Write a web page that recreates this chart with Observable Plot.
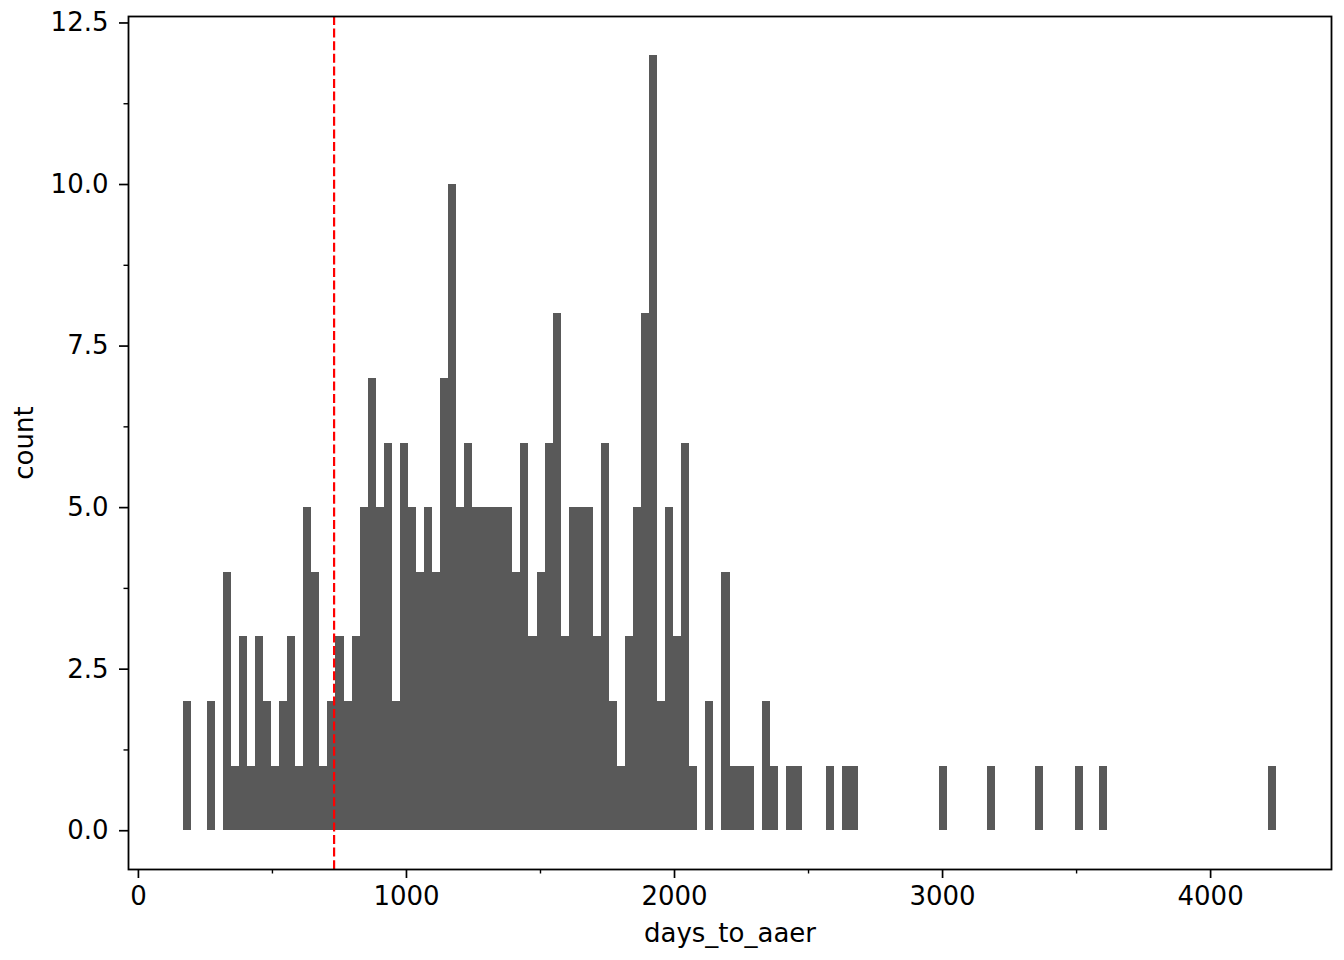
<!DOCTYPE html>
<html>
<head>
<meta charset="utf-8">
<script src="https://cdn.jsdelivr.net/npm/d3@7"></script>
<script src="https://cdn.jsdelivr.net/npm/@observablehq/plot@0.6"></script>
<style>
  html, body { margin: 0; padding: 0; background: #ffffff; }
  #chart svg { display: block; }
</style>
</head>
<body>
<div id="chart"></div>
<script>
// Histogram of days_to_aaer: 136 bins of 30 days starting at 167 days
const binStart = 167;
const binWidth = 30;
const counts = [
  2,0,0,2,0,4,1,3,1,3,
  2,1,2,3,1,5,4,1,2,3,
  2,3,5,7,5,6,2,6,5,4,
  5,4,7,10,5,6,5,5,5,5,
  5,4,6,3,4,6,8,3,5,5,
  5,3,6,2,1,3,5,8,12,2,
  5,3,6,1,0,2,0,4,1,1,
  1,0,2,1,0,1,1,0,0,0,
  1,0,1,1,0,0,0,0,0,0,
  0,0,0,0,1,0,0,0,0,0,
  1,0,0,0,0,0,1,0,0,0,
  0,1,0,0,1,0,0,0,0,0,
  0,0,0,0,0,0,0,0,0,0,
  0,0,0,0,0,1
];
const thresholdDays = [730];
const xTicks = [0, 1000, 2000, 3000, 4000];
const xMinorTicks = [500, 1500, 2500, 3500];
const yTicks = [0, 2.5, 5, 7.5, 10, 12.5];
const yMinorTicks = [1.25, 3.75, 6.25, 8.75, 11.25];
const xLabel = "days_to_aaer";
const yLabel = "count";

const bins = counts.map((c, i) => ({
  x1: binStart + i * binWidth,
  x2: binStart + (i + 1) * binWidth,
  count: c
})).filter(d => d.count > 0);

const chart = Plot.plot({
  width: 1344,
  height: 960,
  marginLeft: 128,
  marginRight: 13,
  marginTop: 16,
  marginBottom: 91,
  style: {
    fontFamily: "'DejaVu Sans', sans-serif",
    fontSize: "26px",
    color: "#000",
    background: "#fff"
  },
  x: { domain: [-37, 4451] },
  y: { domain: [-0.6, 12.6] },
  marks: [
    Plot.rect(bins, {
      x1: "x1", x2: "x2", y1: () => 0, y2: "count",
      fill: "#595959", shapeRendering: "crispEdges"
    }),
    Plot.ruleX(thresholdDays, {
      stroke: "#ff0000", strokeWidth: 2.2, strokeDasharray: "9,3.6"
    }),
    Plot.frame({ stroke: "#000", strokeWidth: 1.8 }),
    Plot.axisX(xTicks, {
      anchor: "bottom", tickSize: 9, tickPadding: 8, strokeWidth: 1.7,
      tickFormat: d3.format("d"), label: null, fill: "#000"
    }),
    Plot.axisX(xMinorTicks, {
      anchor: "bottom", tickSize: 4.5, strokeWidth: 1.4,
      tickFormat: () => "", label: null
    }),
    Plot.axisY(yTicks, {
      anchor: "left", tickSize: 9, tickPadding: 11, strokeWidth: 1.7,
      tickFormat: d3.format(".1f"), label: null, fill: "#000"
    }),
    Plot.axisY(yMinorTicks, {
      anchor: "left", tickSize: 4.5, strokeWidth: 1.4,
      tickFormat: () => "", label: null
    }),
    Plot.text([xLabel], {
      frameAnchor: "bottom", dy: 64, lineAnchor: "middle", textAnchor: "middle",
      fill: "#000", fontSize: 26
    }),
    Plot.text([yLabel], {
      frameAnchor: "left", dx: -103.5, rotate: -90, lineAnchor: "middle", textAnchor: "middle",
      fill: "#000", fontSize: 26
    })
  ]
});
document.getElementById("chart").appendChild(chart);
</script>
</body>
</html>
